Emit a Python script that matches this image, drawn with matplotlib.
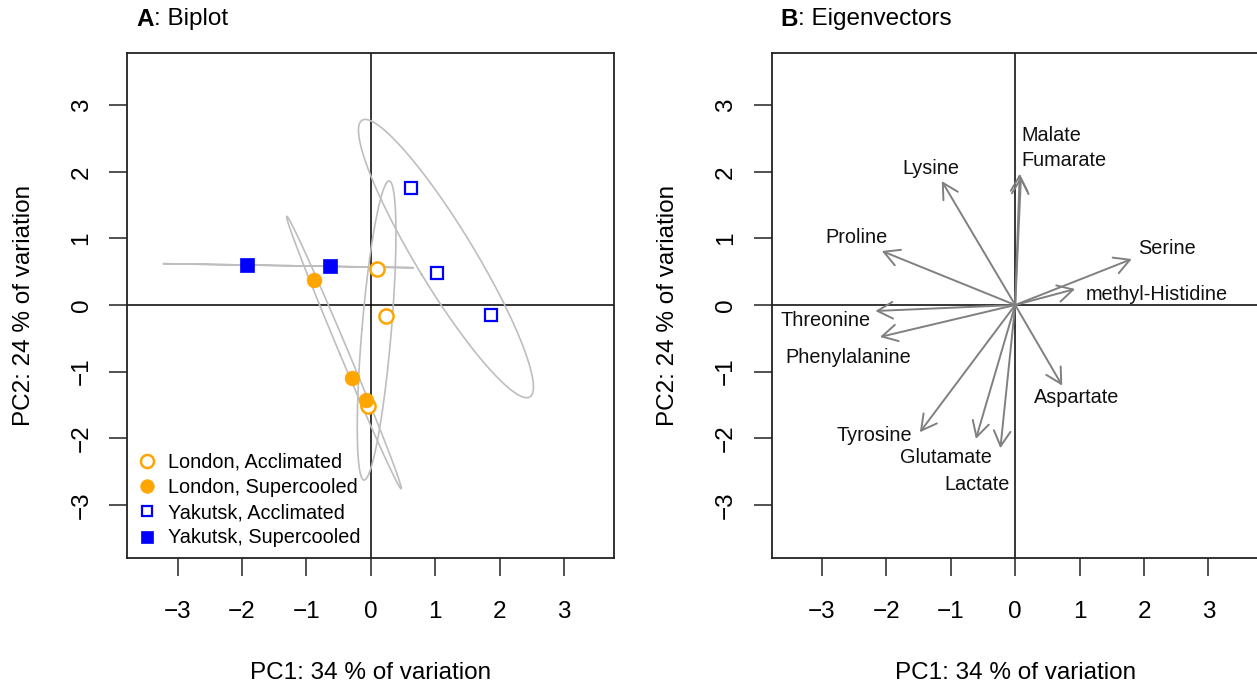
import numpy as np
import matplotlib
matplotlib.use("Agg")
import matplotlib.pyplot as plt
from matplotlib.patches import FancyArrowPatch, ArrowStyle
from matplotlib.lines import Line2D

plt.rcParams['font.family'] = ['Liberation Sans', 'DejaVu Sans']

# ---------------- data ----------------
# Panel A: sample scores
london_accl_pc1 = [0.09, 0.23, -0.05]
london_accl_pc2 = [0.54, -0.17, -1.52]
london_super_pc1 = [-0.88, -0.29, -0.08]
london_super_pc2 = [0.37, -1.09, -1.42]
yakutsk_accl_pc1 = [0.62, 1.02, 1.86]
yakutsk_accl_pc2 = [1.76, 0.48, -0.15]
yakutsk_super_pc1 = [-1.92, -0.64]
yakutsk_super_pc2 = [0.60, 0.58]
group_labels = ["London, Acclimated", "London, Supercooled",
                "Yakutsk, Acclimated", "Yakutsk, Supercooled"]
ellipse_conf = 0.90

# Panel B: eigenvectors
variables = ["Lysine", "Malate", "Fumarate", "Proline", "Serine",
             "methyl-Histidine", "Threonine", "Phenylalanine", "Tyrosine",
             "Glutamate", "Lactate", "Aspartate"]
vec_pc1 = [-1.14, 0.07, 0.09, -2.07, 1.81, 0.93, -2.17, -2.10, -1.48, -0.61, -0.23, 0.73]
vec_pc2 = [1.86, 1.97, 1.93, 0.81, 0.69, 0.24, -0.09, -0.48, -1.91, -2.01, -2.15, -1.21]
label_pc1 = [-1.31, 0.556, 0.75, -2.46, 2.36, 2.19, -2.95, -2.59, -2.19, -1.07, -0.59, 0.95]
label_pc2 = [2.07, 2.57, 2.20, 1.04, 0.87, 0.18, -0.21, -0.76, -1.94, -2.27, -2.67, -1.36]

xlab = "PC1: 34 % of variation"
ylab = "PC2: 24 % of variation"
ticks = [-3, -2, -1, 0, 1, 2, 3]

# ---------------- figure ----------------
W, H = 1257, 689
fig = plt.figure(figsize=(W / 100, H / 100), dpi=100)

BIG = 17.5
SMALL = 14.3
ORANGE = "#FFA500"
BLUE = "#0000FF"
ELL = "#BEBEBE"
ARR = "#808080"


def make_axes(left_px):
    ax = fig.add_axes([left_px / W, (H - 557.5) / H, 487 / W, 505 / H])
    ax.set_xlim(-3.78, 3.78)
    ax.set_ylim(-3.79, 3.79)
    ax.set_xticks(ticks)
    ax.set_yticks(ticks)
    ax.set_xticklabels(["\u22123", "\u22122", "\u22121", "0", "1", "2", "3"])
    ax.set_yticklabels(["\u22123", "\u22122", "\u22121", "0", "1", "2", "3"])
    ax.tick_params(axis='both', direction='out', length=13, width=1.1,
                   labelsize=BIG, color='#222222')
    ax.tick_params(axis='x', pad=18)
    ax.tick_params(axis='y', pad=12)
    for lab in ax.get_yticklabels():
        lab.set_rotation(90)
        lab.set_va('center')
        lab.set_ha('right')
    for s in ax.spines.values():
        s.set_linewidth(1.3)
        s.set_color('#222222')
    ax.axhline(0, color='black', lw=1.1, zorder=1)
    ax.axvline(0, color='black', lw=1.1, zorder=1)
    ax.set_xlabel(xlab, fontsize=BIG, va='center')
    ax.set_ylabel(ylab, fontsize=BIG, va='center')
    ax.xaxis.set_label_coords(0.5, (557.5 - 673) / 505)
    ax.yaxis.set_label_coords((24 - 127.3) / 487, 0.5)
    return ax


def title(x_px, letter, rest):
    t = fig.text(x_px / W, 1 - 19 / H, letter, fontsize=BIG, fontweight='bold',
                 va='center', ha='left')
    ann = fig.add_artist(matplotlib.text.Annotation(
        rest, xy=(1, 0), xycoords=t, va='bottom', ha='left',
        fontsize=BIG, annotation_clip=False))
    return ann


def draw_ellipse(ax, xs, ys):
    xs = np.asarray(xs, float)
    ys = np.asarray(ys, float)
    cov = np.cov(np.vstack([xs, ys]))
    vals, vecs = np.linalg.eigh(cov)
    vals = np.clip(vals, 0, None)
    r = np.sqrt(-2 * np.log(1 - ellipse_conf))
    t = np.linspace(0, 2 * np.pi, 400)
    circ = np.vstack([np.cos(t), np.sin(t)])
    pts = vecs @ (np.sqrt(vals)[:, None] * circ) * r
    ax.plot(pts[0] + xs.mean(), pts[1] + ys.mean(), color=ELL, lw=1.2, zorder=2)


# ---- Panel A ----
axA = make_axes(127.3)
groups = [
    (london_accl_pc1, london_accl_pc2, dict(marker='o', mfc='white', mec=ORANGE, mew=1.8, ms=10.2)),
    (london_super_pc1, london_super_pc2, dict(marker='o', mfc=ORANGE, mec=ORANGE, mew=0.5, ms=10.6)),
    (yakutsk_accl_pc1, yakutsk_accl_pc2, dict(marker='s', mfc='white', mec=BLUE, mew=1.6, ms=8.6)),
    (yakutsk_super_pc1, yakutsk_super_pc2, dict(marker='s', mfc=BLUE, mec=BLUE, mew=0.5, ms=9.5)),
]
for xs, ys, _ in groups:
    draw_ellipse(axA, xs, ys)
for (xs, ys, st), lab in zip(groups, group_labels):
    axA.plot(xs, ys, linestyle='none', zorder=3, label=lab, **st)
leg_handles = []
for (_, _, st), lab in zip(groups, group_labels):
    st2 = dict(st)
    st2['ms'] = st['ms'] * 0.92
    leg_handles.append(Line2D([], [], linestyle='none', **st2))
axA.legend(leg_handles, group_labels, loc='upper left',
           bbox_to_anchor=((137.1 - 127.3) / 487, (557.5 - 453.0) / 505),
           frameon=False, fontsize=SMALL, handlelength=1.0, handletextpad=0.56,
           labelspacing=0.31, borderpad=0, borderaxespad=0, numpoints=1)

# ---- Panel B ----
axB = make_axes(771.7)
for x, y in zip(vec_pc1, vec_pc2):
    arr = FancyArrowPatch((0, 0), (x, y),
                          arrowstyle=ArrowStyle('->', head_length=11, head_width=6.0),
                          mutation_scale=1, shrinkA=0, shrinkB=0,
                          color=ARR, lw=1.4, zorder=3)
    axB.add_patch(arr)
for name, x, y in zip(variables, label_pc1, label_pc2):
    axB.annotate(name, (x, y), xytext=(0, -5.1), textcoords='offset points',
                 ha='center', va='baseline', fontsize=SMALL, color='#111111')

title(136, "A", ": Biplot")
title(780, "B", ": Eigenvectors")

fig.savefig("out.png", dpi=100)
